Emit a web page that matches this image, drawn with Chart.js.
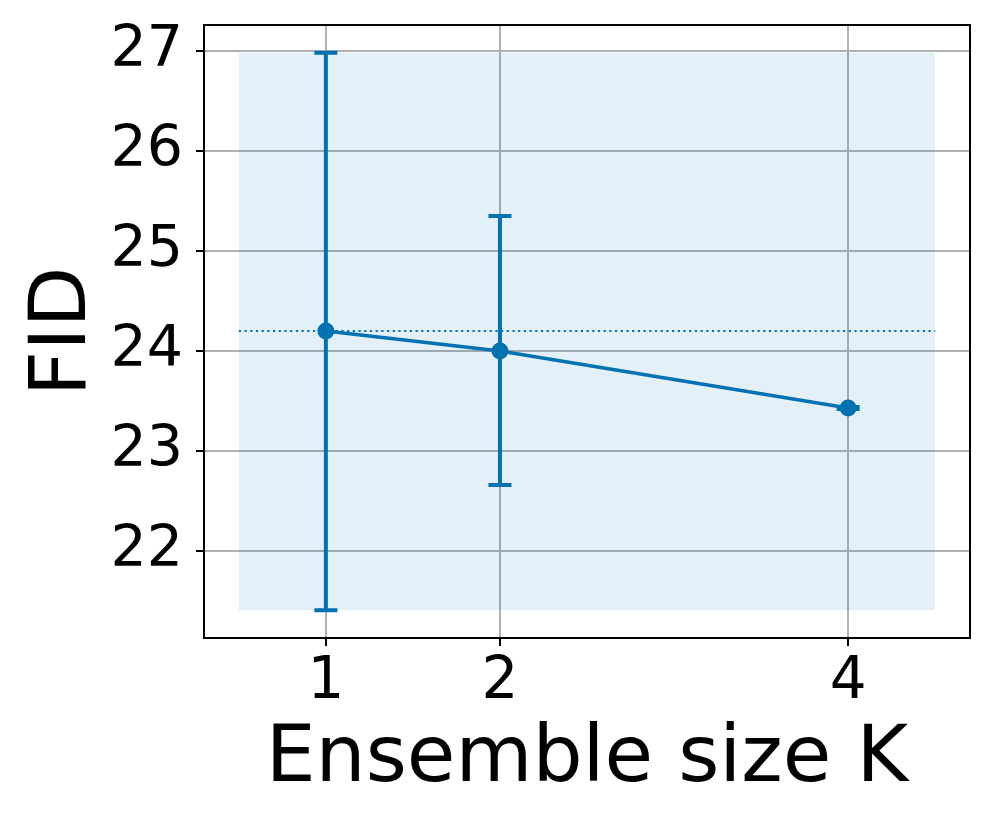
<!DOCTYPE html>
<html>
<head>
<meta charset="utf-8">
<script src="https://cdn.jsdelivr.net/npm/chart.js@4.4.1/dist/chart.umd.min.js"></script>
<style>
  html, body { margin: 0; padding: 0; background: #fff; }
  #wrap { width: 996px; height: 830px; }
</style>
</head>
<body>
<div id="wrap"><canvas id="chart" width="996" height="830"></canvas></div>
<script>
// ensemble sizes and FID readings
var ensembleSizes = [1, 2, 4];
var fidMeans = [24.2, 24.0, 23.43];
var fidLow = [21.41, 22.66, 23.42];
var fidHigh = [26.98, 25.35, 23.44];
var xTicks = [1, 2, 4];
var yTicks = [22, 23, 24, 25, 26, 27];

// band spans the K=1 spread, dotted line is the K=1 mean
var bandX = [0.5, 4.5];
var bandLow = 21.41;
var bandHigh = 26.98;
var baseline = 24.2;

var blue = '#0072B2';

function pts(xs, ys) {
  return xs.map(function (x, i) { return { x: x, y: Array.isArray(ys) ? ys[i] : ys }; });
}

var errorBars = {
  id: 'errorBars',
  afterDatasetsDraw: function (chart) {
    var ctx = chart.ctx, xs = chart.scales.x, ys = chart.scales.y;
    ctx.save();
    ctx.strokeStyle = blue;
    ctx.lineWidth = 4;
    ensembleSizes.forEach(function (k, i) {
      var px = xs.getPixelForValue(k);
      var top = ys.getPixelForValue(fidHigh[i]);
      var bot = ys.getPixelForValue(fidLow[i]);
      ctx.beginPath();
      ctx.moveTo(px, top); ctx.lineTo(px, bot);
      ctx.moveTo(px - 11.5, top); ctx.lineTo(px + 11.5, top);
      ctx.moveTo(px - 11.5, bot); ctx.lineTo(px + 11.5, bot);
      ctx.stroke();
    });
    ctx.restore();
  }
};

var frame = {
  id: 'frame',
  afterDraw: function (chart) {
    var a = chart.chartArea, ctx = chart.ctx;
    ctx.save();
    ctx.strokeStyle = '#000';
    ctx.lineWidth = 2;
    ctx.strokeRect(a.left, a.top, a.right - a.left, a.bottom - a.top);
    ctx.restore();
  }
};

function noPad(s) {
  s.paddingTop = 0; s.paddingBottom = 0;
  s.paddingLeft = 0; s.paddingRight = 0;
}

new Chart(document.getElementById('chart'), {
  type: 'line',
  data: {
    datasets: [
      {
        label: 'main',
        data: pts(ensembleSizes, fidMeans),
        borderColor: blue,
        backgroundColor: blue,
        borderWidth: 3.5,
        pointRadius: 8.5,
        pointHoverRadius: 8.5,
        pointBorderWidth: 0,
        fill: false,
        order: 0
      },
      {
        label: 'baseline',
        data: pts(bandX, baseline),
        borderColor: blue,
        borderWidth: 2.2,
        borderDash: [2.2, 3.5],
        pointRadius: 0,
        fill: false,
        order: 1
      },
      {
        label: 'bandLow',
        data: pts(bandX, bandLow),
        borderWidth: 0,
        pointRadius: 0,
        fill: false,
        order: 3
      },
      {
        label: 'bandHigh',
        data: pts(bandX, bandHigh),
        borderWidth: 0,
        pointRadius: 0,
        backgroundColor: 'rgba(0,114,178,0.105)',
        fill: '-1',
        order: 2
      }
    ]
  },
  options: {
    responsive: false,
    animation: false,
    layout: { padding: { top: 25, right: 26, left: 0, bottom: 0 } },
    plugins: {
      legend: { display: false },
      tooltip: { enabled: false }
    },
    scales: {
      x: {
        type: 'linear',
        min: 0.3,
        max: 4.7,
        afterBuildTicks: function (s) {
          s.ticks = xTicks.map(function (v) { return { value: v }; });
        },
        afterFit: function (s) { s.height = 192; noPad(s); },
        grid: { color: '#b0b0b0', lineWidth: 2, tickColor: '#000', tickLength: 8 },
        border: { display: false },
        ticks: {
          color: '#000',
          padding: 2,
          font: { family: 'DejaVu Sans', size: 58 },
          maxRotation: 0
        },
        title: {
          display: true,
          text: 'Ensemble size K',
          color: '#000',
          font: { family: 'DejaVu Sans', size: 79 },
          padding: { top: 0, bottom: 22 }
        }
      },
      y: {
        min: 21.132,
        max: 27.258,
        afterBuildTicks: function (s) {
          s.ticks = yTicks.map(function (v) { return { value: v }; });
        },
        afterFit: function (s) { s.width = 204; noPad(s); },
        grid: { color: '#b0b0b0', lineWidth: 2, tickColor: '#000', tickLength: 8 },
        border: { display: false },
        ticks: {
          color: '#000',
          padding: 13,
          font: { family: 'DejaVu Sans', size: 57 }
        },
        title: {
          display: true,
          text: 'FID',
          color: '#000',
          font: { family: 'DejaVu Sans', size: 79 },
          padding: { top: 17, bottom: 0 }
        }
      }
    }
  },
  plugins: [errorBars, frame]
});
</script>
</body>
</html>
